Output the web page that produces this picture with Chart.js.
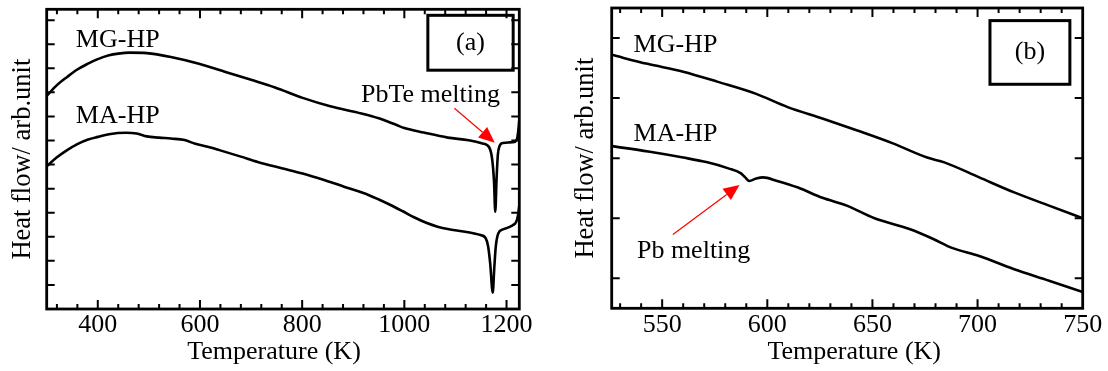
<!DOCTYPE html>
<html>
<head>
<meta charset="utf-8">
<script src="https://cdn.jsdelivr.net/npm/chart.js@4.4.1/dist/chart.umd.min.js"></script>
<style>
  html, body { margin: 0; padding: 0; background: #fff; }
  #wrap { position: relative; width: 1108px; height: 371px; }
  canvas { position: absolute; top: 0; }
  #chartA { left: 0; }
  #chartB { left: 560px; }
</style>
</head>
<body>
<div id="wrap">
  <canvas id="chartA" width="540" height="371"></canvas>
  <canvas id="chartB" width="548" height="371"></canvas>
</div>
<script>
// Panel (a): full DSC scan, 300-1225 K
const tempA_MG = [300, 320, 340, 360, 381, 400, 422, 440, 462, 496, 543, 598, 650, 700, 747, 801, 855, 916, 950, 985, 1000, 1038, 1085, 1126, 1153, 1166, 1172, 1175.5, 1178, 1180.5, 1183, 1186, 1193, 1205, 1217, 1221, 1223.5, 1225];
const heatA_MG = [8.85, 9.3, 9.64, 9.95, 10.19, 10.38, 10.54, 10.61, 10.65, 10.63, 10.47, 10.19, 9.85, 9.52, 9.2, 8.77, 8.42, 8.12, 7.92, 7.64, 7.52, 7.33, 7.12, 7.01, 6.88, 6.72, 6.2, 5.3, 4.04, 5.4, 6.4, 6.75, 6.9, 6.92, 6.95, 7.1, 7.5, 7.85];
const tempA_MA = [300, 320, 340, 360, 381, 400, 422, 455, 476, 496, 520, 543, 570, 591, 615, 638, 680, 713, 760, 801, 840, 882, 920, 950, 975, 997, 1020, 1044, 1065, 1085, 1119, 1149, 1159, 1164, 1168, 1173, 1176, 1179, 1184, 1193, 1205, 1213, 1219, 1222.5, 1225];
const heatA_MA = [5.93, 6.3, 6.6, 6.85, 7.04, 7.15, 7.26, 7.32, 7.29, 7.17, 7.12, 7.08, 7.02, 6.86, 6.74, 6.6, 6.33, 6.11, 5.85, 5.63, 5.38, 5.08, 4.82, 4.55, 4.3, 4.06, 3.8, 3.57, 3.42, 3.32, 3.21, 3.07, 2.95, 2.6, 1.9, 0.68, 1.7, 2.6, 3.15, 3.31, 3.4, 3.49, 3.62, 3.9, 4.3];
const xTicksA = [400, 600, 800, 1000, 1200];
const yTicksA = [1, 2, 3, 4, 5, 6, 7, 8, 9, 10, 11, 12];

// Panel (b): zoom on 526-750 K
const tempB_MG = [526, 543, 560, 576.5, 594.7, 609.7, 626.2, 642.8, 659.4, 676, 684.2, 700.8, 717.4, 734, 750];
const heatB_MG = [3.72, 3.57, 3.44, 3.27, 3.07, 2.85, 2.66, 2.46, 2.25, 2.01, 1.93, 1.68, 1.43, 1.21, 1.0];
const tempB_MA = [526, 543.4, 560, 571.5, 581.5, 587.3, 589.5, 591.4, 594.7, 598, 604.7, 614.6, 626.2, 637.8, 651, 667.6, 679.2, 687.5, 700.8, 717.4, 734, 750];
const heatB_MA = [2.2, 2.11, 2.01, 1.93, 1.83, 1.75, 1.68, 1.62, 1.66, 1.68, 1.62, 1.51, 1.34, 1.21, 1.0, 0.82, 0.65, 0.51, 0.37, 0.15, -0.04, -0.23];
const xTicksB = [550, 600, 650, 700, 750];
const yTicksB = [0, 1, 2, 3, 4];

const serif = 'Liberation Serif';

// frame + inward ticks on all four sides
const frameTicks = {
  id: 'frameTicks',
  afterDraw(chart, args, opts) {
    const {ctx, chartArea: a, scales: {x, y}} = chart;
    ctx.save();
    ctx.strokeStyle = '#000';
    ctx.lineWidth = 2;
    ctx.beginPath();
    for (let v = x.min + opts.minorStep - (x.min % opts.minorStep); v < x.max; v += opts.minorStep) {
      const px = x.getPixelForValue(v);
      const len = opts.xMajor.includes(v) ? 9 : 5;
      ctx.moveTo(px, a.bottom); ctx.lineTo(px, a.bottom - len);
      ctx.moveTo(px, a.top); ctx.lineTo(px, a.top + len);
    }
    opts.yTicks.forEach(v => {
      const py = y.getPixelForValue(v);
      ctx.moveTo(a.left, py); ctx.lineTo(a.left + 8, py);
      ctx.moveTo(a.right, py); ctx.lineTo(a.right - 8, py);
    });
    ctx.stroke();
    ctx.lineWidth = 2.8;
    ctx.strokeRect(a.left, a.top, a.right - a.left, a.bottom - a.top);
    ctx.restore();
  }
};

// curve names, red arrow, panel letter box and x title
const notes = {
  id: 'notes',
  afterDraw(chart, args, opts) {
    const {ctx, chartArea: a, scales: {x, y}} = chart;
    ctx.save();
    ctx.fillStyle = '#000';
    ctx.font = '26px "' + serif + '"';
    ctx.textBaseline = 'alphabetic';
    ctx.textAlign = 'left';
    opts.labels.forEach(l => ctx.fillText(l.text, x.getPixelForValue(l.x), y.getPixelForValue(l.y)));

    // arrow
    const ar = opts.arrow;
    const x0 = x.getPixelForValue(ar.x0), y0 = y.getPixelForValue(ar.y0);
    const x1 = x.getPixelForValue(ar.x1), y1 = y.getPixelForValue(ar.y1);
    const ang = Math.atan2(y1 - y0, x1 - x0);
    const hl = 16, hw = 7;
    const bx = x1 - hl * Math.cos(ang), by = y1 - hl * Math.sin(ang);
    ctx.strokeStyle = '#ff0000';
    ctx.fillStyle = '#ff0000';
    ctx.lineWidth = 1.2;
    ctx.beginPath();
    ctx.moveTo(x0, y0); ctx.lineTo(bx, by);
    ctx.stroke();
    ctx.beginPath();
    ctx.moveTo(x1, y1);
    ctx.lineTo(bx + hw * Math.sin(ang), by - hw * Math.cos(ang));
    ctx.lineTo(bx - hw * Math.sin(ang), by + hw * Math.cos(ang));
    ctx.closePath();
    ctx.fill();

    // panel letter
    const b = opts.box;
    const l = x.getPixelForValue(b.x0), r = x.getPixelForValue(b.x1);
    const t = y.getPixelForValue(b.y1), bt = y.getPixelForValue(b.y0);
    ctx.strokeStyle = '#000';
    ctx.lineWidth = 3;
    ctx.strokeRect(l, t, r - l, bt - t);
    ctx.fillStyle = '#000';
    ctx.textAlign = 'center';
    ctx.textBaseline = 'middle';
    ctx.fillText(b.text, (l + r) / 2, (t + bt) / 2);

    // x axis title (slightly off the plot centre, as in the figure)
    ctx.fillText('Temperature (K)', (a.left + a.right) / 2 + opts.titleShift, chart.height - 19);
    ctx.restore();
  }
};

function makeChart(id, cfg) {
  return new Chart(document.getElementById(id), {
    type: 'line',
    data: {
      datasets: [{
        label: 'MG-HP',
        data: cfg.mgT.map((t, i) => ({x: t, y: cfg.mgH[i]})),
        borderColor: '#000', borderWidth: 2.6, pointRadius: 0,
        cubicInterpolationMode: 'monotone'
      }, {
        label: 'MA-HP',
        data: cfg.maT.map((t, i) => ({x: t, y: cfg.maH[i]})),
        borderColor: '#000', borderWidth: 2.6, pointRadius: 0,
        cubicInterpolationMode: 'monotone'
      }]
    },
    options: {
      responsive: false,
      animation: false,
      layout: { padding: cfg.padding },
      plugins: {
        legend: { display: false },
        tooltip: { enabled: false },
        frameTicks: { minorStep: cfg.minorStep, xMajor: cfg.xTicks, yTicks: cfg.yTicks },
        notes: cfg.notes
      },
      scales: {
        x: {
          type: 'linear',
          min: cfg.xMin, max: cfg.xMax,
          afterBuildTicks: s => { s.ticks = cfg.xTicks.map(v => ({value: v})); },
          afterFit: s => { s.height = cfg.xHeight; },
          grid: { display: false, drawTicks: false },
          border: { display: false },
          ticks: { color: '#000', padding: 1, maxRotation: 0, autoSkip: false,
                   callback: v => String(v), font: { family: serif, size: 26 } },
          title: { display: false }
        },
        y: {
          min: cfg.yMin, max: cfg.yMax,
          afterFit: s => { s.width = cfg.yWidth; },
          grid: { display: false, drawTicks: false },
          border: { display: false },
          ticks: { display: false },
          title: { display: true, text: 'Heat flow/ arb.unit', color: '#000',
                   font: { family: serif, size: 26.5 }, padding: { top: cfg.yTitlePad, bottom: 0 } }
        }
      }
    },
    plugins: [frameTicks, notes]
  });
}

makeChart('chartA', {
  mgT: tempA_MG, mgH: heatA_MG, maT: tempA_MA, maH: heatA_MA,
  xMin: 300, xMax: 1225, yMin: 0, yMax: 12.45,
  xTicks: xTicksA, yTicks: yTicksA, minorStep: 40,
  padding: { left: 0, right: 20.7, top: 9.3, bottom: 0 },
  xHeight: 62, yWidth: 46.7, yTitlePad: 7,
  notes: {
    titleShift: -9,
    labels: [
      { text: 'MG-HP', x: 357, y: 10.88 },
      { text: 'MA-HP', x: 357, y: 7.72 },
      { text: 'PbTe melting', x: 915, y: 8.6 }
    ],
    arrow: { x0: 1098, y0: 8.34, x1: 1177, y1: 6.91 },
    box: { text: '(a)', x0: 1046, x1: 1213, y0: 9.92, y1: 12.2 }
  }
});

makeChart('chartB', {
  mgT: tempB_MG, mgH: heatB_MG, maT: tempB_MA, maH: heatB_MA,
  xMin: 526, xMax: 750, yMin: -0.5, yMax: 4.5,
  xTicks: xTicksB, yTicks: yTicksB, minorStep: 10,
  padding: { left: 0, right: 25.3, top: 8, bottom: 0 },
  xHeight: 62.7, yWidth: 51.7, yTitlePad: 10,
  notes: {
    titleShift: 7,
    labels: [
      { text: 'MG-HP', x: 536.4, y: 3.76 },
      { text: 'MA-HP', x: 536.4, y: 2.29 },
      { text: 'Pb melting', x: 538, y: 0.33 }
    ],
    arrow: { x0: 555.1, y0: 0.73, x1: 586.8, y1: 1.555 },
    box: { text: '(b)', x0: 705.9, x1: 743.9, y0: 3.23, y1: 4.29 }
  }
});
</script>
</body>
</html>
